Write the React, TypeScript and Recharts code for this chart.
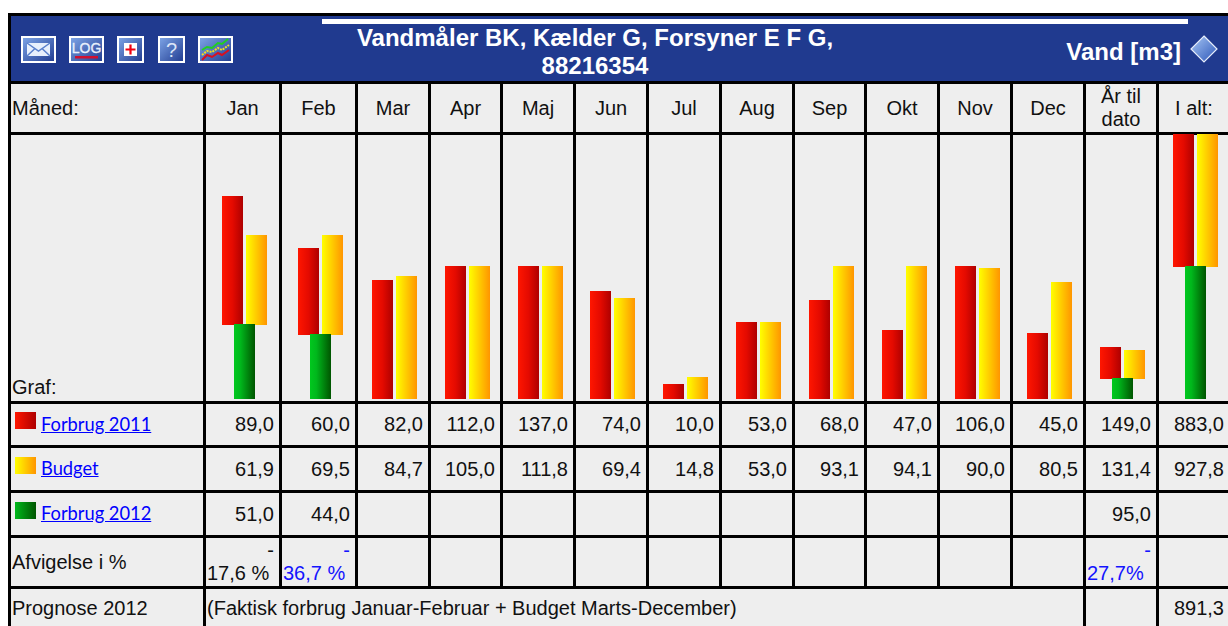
import { BarChart, Bar, XAxis, YAxis, Rectangle } from 'recharts';

const months = ['Jan', 'Feb', 'Mar', 'Apr', 'Maj', 'Jun', 'Jul', 'Aug', 'Sep', 'Okt', 'Nov', 'Dec'];
// last two entries are the "År til dato" and "I alt:" columns
const forbrug2011 = [89, 60, 82, 112, 137, 74, 10, 53, 68, 47, 106, 45, 149, 883];
const budget = [61.9, 69.5, 84.7, 105, 111.8, 69.4, 14.8, 53, 93.1, 94.1, 90, 80.5, 131.4, 927.8];
const forbrug2012 = [51, 44, null, null, null, null, null, null, null, null, null, null, 95, null];
const prognose2012 = 891.3;

// one small chart per column: months share a scale, the two sum columns share another
const chartHeight = 266;
const barLimit = 132;
const monthRange = 184.7;
const sumRange = 1263.7;

const gridX = [203, 279, 355, 428, 500, 573, 646, 719, 792, 864, 937, 1010, 1083, 1156];
const redBarLeft = [222, 298, 372, 445, 518, 590, 663, 736, 809, 882, 955, 1027, 1100, 1173];
const colWidths = gridX.map((x, i) => (i === 0 ? x - 11 : x - gridX[i - 1] - 3));
const gridColumns = [...colWidths, 70].join('px ') + 'px';

const fmt = (v: number | null) => (v === null ? '' : v.toFixed(1).replace('.', ','));

const sans = '"Liberation Sans", Arial, sans-serif';

// snaps the bars to whole pixels, red and yellow sit 1px into the green one
const pairBar = (props: any) => {
  const { x, y, width, height, fill } = props;
  const top = Math.round(y) - 1;
  const bottom = Math.min(Math.floor(y + height + 0.01), chartHeight);
  return <Rectangle x={Math.round(x)} y={top} width={width} height={bottom - top} fill={fill} />;
};

const soloBar = (props: any) => {
  const { x, y, width, height, fill } = props;
  if (!height) return null;
  const top = Math.floor(y + 0.01) - 1;
  return <Rectangle x={Math.round(x)} y={top} width={width} height={chartHeight - top} fill={fill} />;
};

function ColumnChart({ index }: { index: number }) {
  const range = index < 12 ? monthRange : sumRange;
  const cap = (range * barLimit) / chartHeight;
  const green = index === 13 ? prognose2012 : forbrug2012[index];
  const g = green === null ? 0 : Math.min(green, cap);
  const row = {
    name: index < 12 ? months[index] : index === 12 ? 'År til dato' : 'I alt',
    green: green === null ? null : g,
    red: [g, g + Math.min(forbrug2011[index], cap)],
    yellow: [g, g + Math.min(budget[index], cap)],
  };
  return (
    <div style={{ position: 'absolute', left: redBarLeft[index] - 14, top: 133 }}>
      <BarChart width={73} height={chartHeight} data={[row]} margin={{ top: 0, right: 0, bottom: 0, left: 0 }} barGap={3} barSize={21}>
        <defs>
          <linearGradient id={`red${index}`} x1="0" x2="1" y1="0" y2="0">
            <stop offset="0" stopColor="#FF1600" />
            <stop offset="0.5" stopColor="#E40A00" />
            <stop offset="1" stopColor="#AE0000" />
          </linearGradient>
          <linearGradient id={`yellow${index}`} x1="0" x2="1" y1="0" y2="0">
            <stop offset="0" stopColor="#FFFF00" />
            <stop offset="1" stopColor="#FF9500" />
          </linearGradient>
          <linearGradient id={`green${index}`} x1="0" x2="1" y1="0" y2="0">
            <stop offset="0" stopColor="#00C81E" />
            <stop offset="0.3" stopColor="#00B81C" />
            <stop offset="1" stopColor="#005500" />
          </linearGradient>
        </defs>
        <XAxis xAxisId="pair" dataKey="name" hide />
        <XAxis xAxisId="solo" dataKey="name" hide />
        <YAxis hide domain={[0, range]} />
        <Bar xAxisId="pair" dataKey="red" fill={`url(#red${index})`} shape={pairBar} isAnimationActive={false} />
        <Bar xAxisId="pair" dataKey="yellow" fill={`url(#yellow${index})`} shape={pairBar} isAnimationActive={false} />
        <Bar xAxisId="solo" dataKey="green" fill={`url(#green${index})`} shape={soloBar} isAnimationActive={false} />
      </BarChart>
    </div>
  );
}

function IconBox({ left, width, children }: { left: number; width: number; children: any }) {
  return (
    <svg width={width} height={27} style={{ position: 'absolute', left, top: 36 }}>
      <defs>
        <linearGradient id={`ico${left}`} x1="0" x2="1" y1="0" y2="1">
          <stop offset="0" stopColor="#7FA6E8" />
          <stop offset="1" stopColor="#1F3A8F" />
        </linearGradient>
      </defs>
      <rect x="1" y="1" width={width - 2} height="25" fill={`url(#ico${left})`} stroke="#fff" strokeWidth="2" />
      {children}
    </svg>
  );
}

function Cell({ children, style }: { children?: any; style?: any }) {
  return (
    <div style={{ background: '#EEEEEE', overflow: 'hidden', display: 'flex', alignItems: 'center', ...style }}>
      {children}
    </div>
  );
}

function ValueCell({ value }: { value: number | null }) {
  return <Cell style={{ justifyContent: 'flex-end', paddingRight: 5 }}>{fmt(value)}</Cell>;
}

function LegendLabel({ text, from, to }: { text: string; from: string; to: string }) {
  return (
    <Cell>
      <span style={{ display: 'inline-block', width: 21, height: 17, marginLeft: 4, marginTop: -8, background: `linear-gradient(to right, ${from}, ${to})` }} />
      <a href="#" style={{ color: '#0000FF', fontFamily: 'Lato, sans-serif', fontSize: 18.3, marginLeft: 5, marginTop: -2 }}>{text}</a>
    </Cell>
  );
}

function DeviationCell({ value, color }: { value: string; color: string }) {
  return (
    <div style={{ background: '#EEEEEE', color, paddingTop: 1, lineHeight: '23px', overflow: 'hidden', whiteSpace: 'nowrap' }}>
      <div style={{ textAlign: 'right', paddingRight: 5 }}>-</div>
      <div style={{ paddingLeft: 1 }}>{value}</div>
    </div>
  );
}

const emptyCells = (n: number) => Array.from({ length: n }, (_, i) => <Cell key={`e${i}`} />);

export default function App() {
  return (
    <div style={{ position: 'absolute', left: 0, top: 0, width: 1228, height: 626, overflow: 'hidden', background: '#fff', fontFamily: sans, fontSize: 20, color: '#111' }}>
      <div
        style={{
          position: 'absolute', left: 8, top: 13, width: 1240, boxSizing: 'border-box', padding: 3, background: '#000',
          display: 'grid', gap: 3, gridTemplateColumns: gridColumns, gridTemplateRows: '65px 48px 266px 41px 42px 42px 48px 38px',
        }}
      >
        <div style={{ gridColumn: '1 / -1', background: '#203A8F' }} />

        <Cell style={{ paddingLeft: 1 }}>Måned:</Cell>
        {months.map((m) => <Cell key={m} style={{ justifyContent: 'center' }}>{m}</Cell>)}
        <Cell style={{ justifyContent: 'center', textAlign: 'center', lineHeight: '23px' }}>År til<br />dato</Cell>
        <Cell style={{ justifyContent: 'center' }}>I alt:</Cell>

        <Cell style={{ gridColumn: 1, position: 'relative', alignItems: 'flex-end', paddingLeft: 1, paddingBottom: 2 }}>Graf:</Cell>
        {emptyCells(14)}

        <LegendLabel text="Forbrug 2011" from="#FF1600" to="#AE0000" />
        {forbrug2011.map((v, i) => <ValueCell key={i} value={v} />)}
        <LegendLabel text="Budget" from="#FFFF00" to="#FF9500" />
        {budget.map((v, i) => <ValueCell key={i} value={v} />)}
        <LegendLabel text="Forbrug 2012" from="#00B81C" to="#005500" />
        {forbrug2012.map((v, i) => <ValueCell key={i} value={v} />)}

        <Cell style={{ paddingLeft: 1 }}>Afvigelse i %</Cell>
        <DeviationCell value="17,6 %" color="#111" />
        <DeviationCell value="36,7 %" color="#1414FF" />
        {emptyCells(10)}
        <DeviationCell value="27,7%" color="#1414FF" />
        <Cell />

        <Cell style={{ paddingLeft: 1 }}>Prognose 2012</Cell>
        <Cell style={{ gridColumn: 'span 12', paddingLeft: 1 }}>(Faktisk forbrug Januar-Februar + Budget Marts-December)</Cell>
        <Cell />
        <ValueCell value={prognose2012} />
      </div>

      {months.concat('ytd', 'total').map((_, i) => <ColumnChart key={i} index={i} />)}

      {/* header bar */}
      <div style={{ position: 'absolute', left: 322, top: 19, width: 866, height: 5, background: '#fff' }} />
      <div style={{ position: 'absolute', left: 322, top: 24, width: 546, textAlign: 'center', color: '#fff', fontWeight: 'bold', fontSize: 24, lineHeight: '28px' }}>
        Vandmåler BK, Kælder G, Forsyner E F G,<br />88216354
      </div>
      <div style={{ position: 'absolute', right: 47, top: 38, color: '#fff', fontWeight: 'bold', fontSize: 24, lineHeight: '28px' }}>Vand [m3]</div>

      <IconBox left={21} width={35}>
        <path d="M6 7 H29 V20 H6 Z" fill="#E8F0FC" />
        <path d="M6 7 L17.5 15 L29 7 M6 20 L14 12.5 M29 20 L21 12.5" stroke="#5A80CC" strokeWidth="1.5" fill="none" />
      </IconBox>
      <IconBox left={69} width={35}>
        <text x="17.5" y="17" textAnchor="middle" fontSize="14" fontFamily={sans} fill="#E8F0FC" stroke="#E8F0FC" strokeWidth="0.3">LOG</text>
        <rect x="6" y="20" width="23" height="2.5" fill="#D01030" />
      </IconBox>
      <IconBox left={117} width={27}>
        <rect x="7" y="7" width="13" height="13" fill="#fff" />
        <path d="M13.5 8.5 V18.5 M8.5 13.5 H18.5" stroke="#F00010" strokeWidth="2.2" />
      </IconBox>
      <IconBox left={158} width={27}>
        <text x="13.5" y="21" textAnchor="middle" fontSize="20" fontFamily={sans} fill="#DCE6F8">?</text>
      </IconBox>
      <IconBox left={198} width={35}>
        <path d="M4 14 L9 11 L14 12 L20 7 L24 8 L30 3" stroke="#20D020" strokeWidth="2" fill="none" />
        <path d="M4 19 L9 15 L14 16 L20 12 L24 14 L31 9" stroke="#F0E020" strokeWidth="2" strokeDasharray="2 1" fill="none" />
        <path d="M4 24 L9 19 L14 21 L20 17 L24 19 L31 14" stroke="#D81020" strokeWidth="2" fill="none" />
      </IconBox>
      <svg width={30} height={30} style={{ position: 'absolute', left: 1190, top: 35 }}>
        <defs>
          <linearGradient id="diamond" x1="0" x2="1" y1="0" y2="1">
            <stop offset="0" stopColor="#A9C8F5" />
            <stop offset="1" stopColor="#2B55B8" />
          </linearGradient>
        </defs>
        <path d="M14 1 L27 14 L14 27 L1 14 Z" fill="url(#diamond)" stroke="#E8EEFA" strokeWidth="1.2" />
      </svg>
    </div>
  );
}
